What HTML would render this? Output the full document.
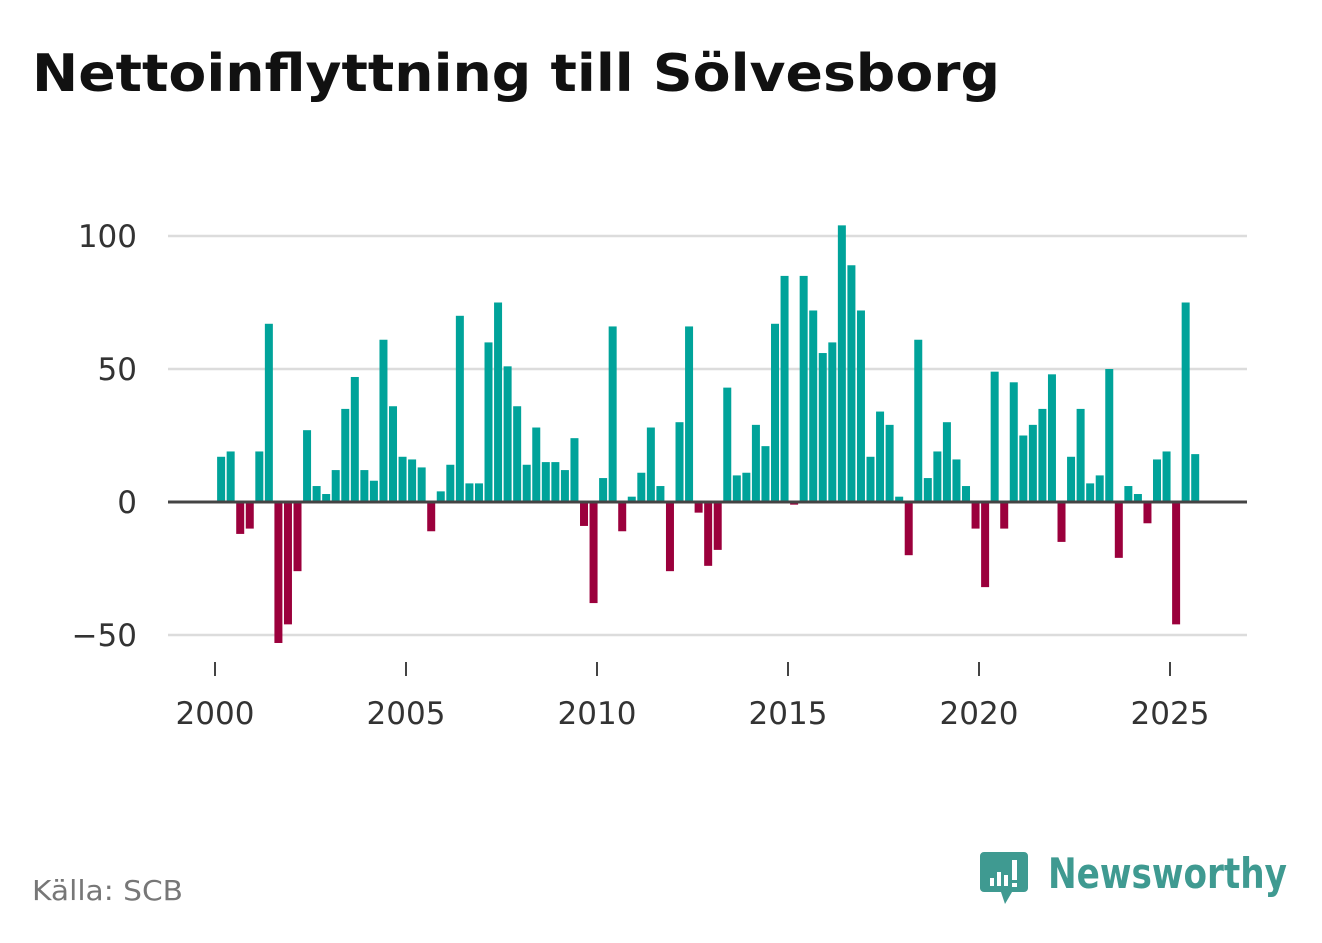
<!DOCTYPE html>
<html><head><meta charset="utf-8">
<style>
body{margin:0;background:#fff;width:1322px;height:939px;overflow:hidden;font-family:"DejaVu Sans","Liberation Sans",sans-serif;}
</style></head>
<body>
<svg width="1322" height="939" viewBox="0 0 1322 939" xmlns="http://www.w3.org/2000/svg">
<text x="32" y="91" font-size="52" font-weight="bold" fill="#111" textLength="968" lengthAdjust="spacingAndGlyphs">Nettoinflyttning till Sölvesborg</text>
<g id="grid"></g>
<g id="bars"></g>
<g id="axes"></g>
<text x="32" y="900" font-size="28" fill="#777" textLength="151" lengthAdjust="spacingAndGlyphs">Källa: SCB</text>
<g>
<path d="M984 852 h40 a4 4 0 0 1 4 4 v32 a4 4 0 0 1 -4 4 h-12 l-7 12 l-4 -12 h-17 a4 4 0 0 1 -4 -4 v-32 a4 4 0 0 1 4 -4z" fill="#3f9a91"/>
<rect x="990" y="878" width="4" height="8" fill="#fff"/>
<rect x="997" y="872" width="4" height="14" fill="#fff"/>
<rect x="1004" y="875" width="4" height="11" fill="#fff"/>
<rect x="1012" y="860" width="5" height="20" fill="#fff"/>
<rect x="1012" y="883" width="5" height="4" fill="#fff"/>
<text x="1048" y="888" font-size="42" font-weight="bold" fill="#3f9a91" textLength="239" lengthAdjust="spacingAndGlyphs">Newsworthy</text>
</g>
</svg>
<script>
const values = [17,19,-12,-10,19,67,-53,-46,-26,27,6,3,12,35,47,12,8,61,36,17,16,13,-11,4,14,70,7,7,60,75,51,36,14,28,15,15,12,24,-9,-38,9,66,-11,2,11,28,6,-26,30,66,-4,-24,-18,43,10,11,29,21,67,85,-1,85,72,56,60,104,89,72,17,34,29,2,-20,61,9,19,30,16,6,-10,-32,49,-10,45,25,29,35,48,-15,17,35,7,10,50,-21,6,3,-8,16,19,-46,75,18];
const startYear = 2000;
const yTicks = [-50,0,50,100];
const xTicks = [2000,2005,2010,2015,2020,2025];
const NS="http://www.w3.org/2000/svg";
const yS = v => 502 - v*2.66;
const xS = t => 215 + (t-2000)*38.2;
function mk(tag, attrs, parent){const e=document.createElementNS(NS,tag);for(const k in attrs)e.setAttribute(k,attrs[k]);parent.appendChild(e);return e;}
const grid=document.getElementById('grid'), bars=document.getElementById('bars'), axes=document.getElementById('axes');
yTicks.forEach(v=>{
  if(v!==0){const l=mk('line',{x1:168,x2:1247,y1:yS(v),y2:yS(v),stroke:'#dcdcdc','stroke-width':2.5},grid);
  
  }
  const t=mk('text',{x:137,y:yS(v)+11,'text-anchor':'end','font-size':31,fill:'#333'},axes);
  t.textContent = v<0 ? '\u2212'+Math.abs(v) : String(v);
  
  
});
values.forEach((v,i)=>{
  const cx = xS(startYear + i/4 + 0.16);
  const y0=yS(0), y1=yS(v);
  const r=mk('rect',{x:cx-4,width:8,y:Math.min(y0,y1),height:Math.abs(y1-y0),fill:v>=0?'#00a39a':'#9b003c'},bars);
  
  
});
const z=mk('line',{x1:168,x2:1247,y1:yS(0),y2:yS(0),stroke:'#444','stroke-width':3},axes);


xTicks.forEach(yr=>{
  const x=xS(yr);
  const tk=mk('line',{x1:x,x2:x,y1:662,y2:676,stroke:'#444','stroke-width':2},axes);
  
  
  const t=mk('text',{x:x,y:724,'text-anchor':'middle','font-size':31,fill:'#333'},axes);
  t.textContent=String(yr);
  
  
});
</script>
</body></html>
